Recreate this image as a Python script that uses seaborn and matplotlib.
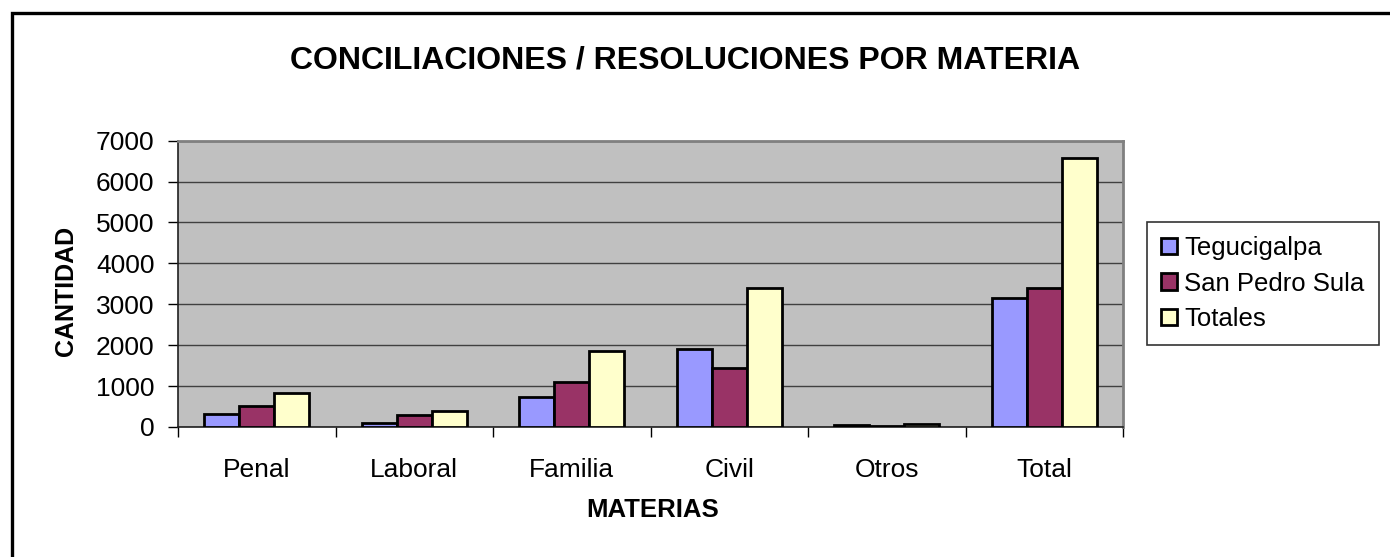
import matplotlib
matplotlib.use("Agg")
import matplotlib.pyplot as plt
import seaborn as sns
import pandas as pd
import numpy as np
from matplotlib.patches import Rectangle, Patch

categories = ["Penal", "Laboral", "Familia", "Civil", "Otros", "Total"]
series_names = ["Tegucigalpa", "San Pedro Sula", "Totales"]
tegucigalpa = [325, 90, 740, 1910, 40, 3146]
san_pedro_sula = [505, 285, 1105, 1446, 20, 3398]
totales = [837, 390, 1855, 3390, 65, 6570]
colors = ["#9999FF", "#993366", "#FFFFCC"]
y_ticks = [0, 1000, 2000, 3000, 4000, 5000, 6000, 7000]

rows = []
for name, vals in zip(series_names, [tegucigalpa, san_pedro_sula, totales]):
    for c, v in zip(categories, vals):
        rows.append({"Materia": c, "Serie": name, "Cantidad": v})
df = pd.DataFrame(rows)

sns.set_theme(style="white")
plt.rcParams['font.family'] = ['Liberation Sans', 'DejaVu Sans']
plt.rcParams['text.color'] = 'black'
plt.rcParams['axes.labelcolor'] = 'black'
plt.rcParams['xtick.color'] = 'black'
plt.rcParams['ytick.color'] = 'black'

W, H = 1390, 557
fig = plt.figure(figsize=(W / 100, H / 100), dpi=100)
left, right, top, bottom = 178, 1123, 140.7, 427
ax = fig.add_axes([left / W, 1 - bottom / H, (right - left) / W, (bottom - top) / H])
ax.set_facecolor("#C0C0C0")

sns.barplot(data=df, x="Materia", y="Cantidad", hue="Serie", order=categories,
            hue_order=series_names, palette=colors, width=2 / 3, dodge=True,
            edgecolor="black", linewidth=2.0, saturation=1, ax=ax, legend=False,
            zorder=3)

ax.set_xlim(-0.5, len(categories) - 0.5)
ax.set_ylim(0, 7000)
ax.set_yticks(y_ticks)
ax.set_yticklabels([str(t) for t in y_ticks], fontsize=19, color="black")
ax.yaxis.grid(True, color="#404040", linewidth=1.0, zorder=1)
ax.set_axisbelow(True)

# x ticks at boundaries, labels at centers
ax.set_xticks(np.arange(-0.5, len(categories), 1.0))
ax.set_xticklabels([])
ax.set_xticks(np.arange(len(categories)), minor=True)
ax.set_xticklabels(categories, minor=True, fontsize=19, color="black")
ax.tick_params(axis="x", which="major", direction="out", length=7, width=1, color="black", bottom=True)
ax.tick_params(axis="x", which="minor", length=0, pad=22)
ax.tick_params(axis="y", direction="out", length=7, width=1, color="black", left=True, pad=10)

ax.set_xlabel("")
ax.set_ylabel("")
for s in ["top", "right"]:
    ax.spines[s].set_color("#808080")
    ax.spines[s].set_linewidth(2)
for s in ["left", "bottom"]:
    ax.spines[s].set_color("#202020")
    ax.spines[s].set_linewidth(1.2)

fig.text(685 / W, 1 - 68 / H, "CONCILIACIONES / RESOLUCIONES POR MATERIA",
         ha="center", va="baseline", fontsize=23, fontweight="bold", color="black")
fig.text(652.5 / W, 1 - 517 / H, "MATERIAS", ha="center", va="baseline",
         fontsize=18.5, fontweight="bold", color="black")
fig.text(73.3 / W, 1 - 291 / H, "CANTIDAD", ha="center", va="baseline",
         rotation=90, rotation_mode="anchor", fontsize=18, fontweight="bold", color="black")

handles = [Patch(facecolor=c, edgecolor="black", linewidth=2) for c in colors]
leg = fig.legend(handles, series_names, loc="upper left",
                 bbox_to_anchor=(1147 / W, 1 - 222 / H), bbox_transform=fig.transFigure,
                 fontsize=18.5, frameon=True, fancybox=False, handlelength=0.6,
                 handleheight=0.6, handletextpad=0.3, labelspacing=0.45,
                 borderpad=0.55, borderaxespad=0)
for t in leg.get_texts():
    t.set_color("black")
leg.get_frame().set_edgecolor("black")
leg.get_frame().set_linewidth(1.2)

fig.patches.append(Rectangle((12 / W, -0.1), 1.2, (1 - 13 / H) + 0.1,
                             transform=fig.transFigure, fill=False,
                             edgecolor="black", linewidth=2.4))

fig.savefig("out.png", dpi=100, facecolor="white")
